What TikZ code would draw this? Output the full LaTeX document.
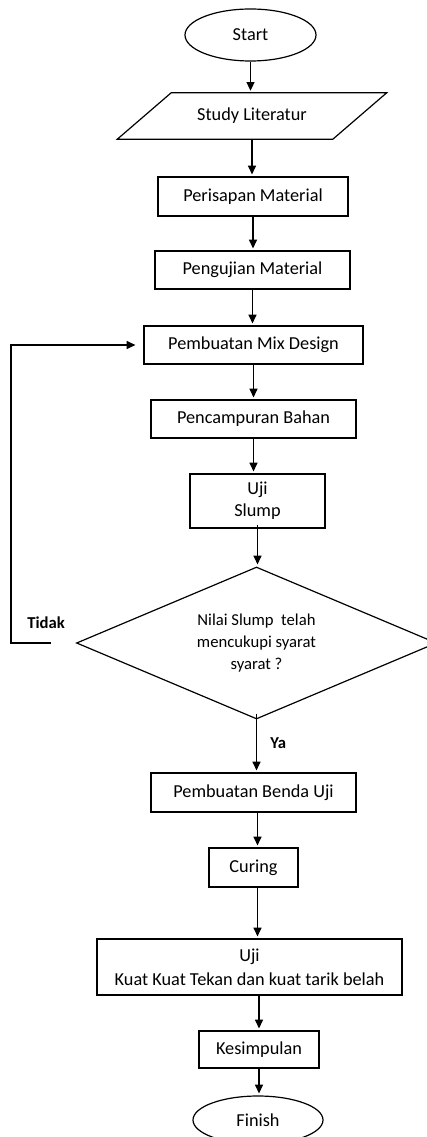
\documentclass[tikz,border=0pt]{standalone}
\usepackage{fontspec}
\setmainfont{Carlito}
\usepackage{tikz}
\usetikzlibrary{shapes.geometric,arrows.meta}

\tikzset{
  proc/.style={draw, line width=0.9pt, rectangle, inner sep=0.75pt, align=center, font=\fontsize{13.7}{18}\selectfont},
  term/.style={draw, line width=0.9pt, ellipse, inner sep=0.75pt, font=\fontsize{13.7}{18}\selectfont},
  arr/.style={line width=0.9pt, -{Triangle[length=6.5pt,width=6pt]}, shorten >=1.5pt},
  lbl/.style={inner sep=0.75pt, font=\fontsize{12.5}{15}\selectfont\bfseries}
}

\begin{document}
\begin{tikzpicture}[x=0.75pt,y=0.75pt,yscale=-1,xscale=1]
\useasboundingbox (0,0) rectangle (426,1137);

% Terminal
\node [term, minimum width=98.25pt, minimum height=39pt] (start) at (250.5,35) {Start};
% Data
\node [inner sep=0pt, minimum width=161.25pt, minimum height=34.5pt, font=\fontsize{13.7}{18}\selectfont] (study) at (252,116) {Study Literatur};
\draw [line width=0.9pt] ([xshift=20.25pt]study.north west) -- ([xshift=20.25pt]study.north east) -- ([xshift=-20.25pt]study.south east) -- ([xshift=-20.25pt]study.south west) -- cycle;

% Process
\node [proc, minimum width=142.5pt, minimum height=29.25pt] (siap) at (253,196.5) {Perisapan Material};
\node [proc, minimum width=146.25pt, minimum height=28.5pt] (uji) at (252.5,270) {Pengujian Material};
\node [proc, minimum width=164.25pt, minimum height=28.5pt] (mix) at (253.5,345) {Pembuatan Mix Design};
\node [proc, minimum width=153.75pt, minimum height=28.5pt] (campur) at (253.5,419) {Pencampuran Bahan};
\node [proc, minimum width=101.25pt, minimum height=40.5pt, font=\fontsize{13.7}{16.7}\selectfont] (slump) at (257.5,501) {Uji\\Slump};

% Decision
\node [draw, diamond, aspect=2.4, inner sep=0pt, line width=0.9pt, minimum width=270pt, minimum height=114pt, align=center, font=\fontsize{12.5}{16.5}\selectfont] (cek) at (256.5,643) {Nilai Slump~ telah\\mencukupi syarat\\syarat ?};

% Process
\node [proc, minimum width=153.75pt, minimum height=29.25pt] (benda) at (253.5,792.5) {Pembuatan Benda Uji};
\node [proc, minimum width=66.75pt, minimum height=29.25pt] (curing) at (253.5,867.5) {Curing};
\node [proc, minimum width=228.75pt, minimum height=42pt] (kuat) at (249.5,967) {Uji\\Kuat Kuat Tekan dan kuat tarik belah};
\node [proc, minimum width=90pt, minimum height=27.75pt] (simpul) at (259,1049.5) {Kesimpulan};

% Terminal
\node [term, minimum width=97.5pt, minimum height=36pt] (finish) at (258,1120) {Finish};

% Text Node
\node [lbl, anchor=west] (tidak) at (26,623) {Tidak};
\node [lbl, anchor=west] (ya) at (269,743) {Ya};

% Arrows
\draw [arr] (start.south) -- (start.south |- study.north);
\draw [arr] (study.south) -- (study.south |- siap.north);
\draw [arr] (siap.south) -- (siap.south |- uji.north);
\draw [arr] (uji.south) -- (uji.south |- mix.north);
\draw [arr] (mix.south) -- (mix.south |- campur.north);
\draw [arr] (campur.south) -- (campur.south |- slump.north);
\draw [arr] ([yshift=-3pt]slump.south) -- (slump.south |- cek.north);
\draw [arr] ([yshift=-4.5pt]cek.south) -- (cek.south |- benda.north);
\draw [arr] ([xshift=3pt]benda.south) -- ([xshift=3pt]benda.south |- curing.north);
\draw [arr] ([xshift=3pt]curing.south) -- ([xshift=3pt]curing.south |- kuat.north);
\draw [arr] (simpul.north |- kuat.south) -- (simpul.north);
\draw [arr] (simpul.south) -- (simpul.south |- finish.north);

% Loop back
\draw [arr] ([xshift=-18.75pt]cek.west) -- ++(-40,0) |- ([xshift=-4.5pt]mix.west);
\end{tikzpicture}
\end{document}
